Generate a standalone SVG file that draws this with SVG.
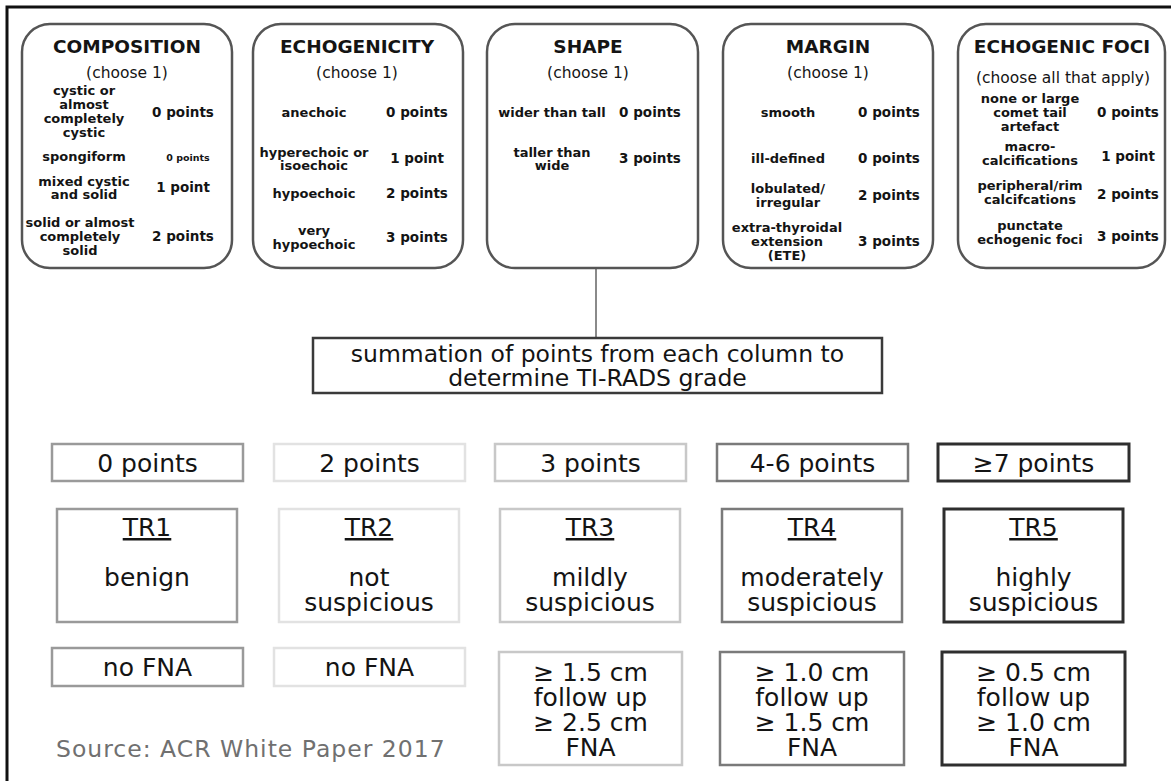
<svg xmlns="http://www.w3.org/2000/svg" width="1171" height="781" viewBox="0 0 1171 781">
<style>
text{font-family:"DejaVu Sans","Verdana",sans-serif;fill:#141414;text-anchor:middle}
.cat{fill:#fff;stroke:#555;stroke-width:2.5}
.ttl{font-size:18.5px;font-weight:bold}
.sub{font-size:15.5px}
.lb{font-size:13px;font-weight:bold}
.pt{font-size:13.5px;font-weight:bold}
.big{font-size:25px}
.sum{font-size:23.5px}
.box{fill:#fff;stroke-width:2.5}
.c1{stroke:#9a9a9a}.c2{stroke:#e2e2e2}.c3{stroke:#c8c8c8}.c4{stroke:#7a7a7a}.c5{stroke:#2e2e2e;stroke-width:3}
.u{text-decoration:underline}
</style>
<rect width="1171" height="781" fill="#fff"/>
<path d="M7,781 V7 H1171" fill="none" stroke="#111" stroke-width="3"/>
<g id="connectors">
<line x1="596" y1="268" x2="596" y2="338" stroke="#8a8a8a" stroke-width="2"/>
</g>
<g id="composition">
<rect class="cat" x="22" y="24" width="210" height="244" rx="28"/>
<text class="ttl" x="127" y="53">COMPOSITION</text>
<text class="sub" x="127" y="78">(choose 1)</text>
<text class="lb" x="84" y="95">cystic or</text>
<text class="lb" x="84" y="109">almost</text>
<text class="lb" x="84" y="123">completely</text>
<text class="lb" x="84" y="137">cystic</text>
<text class="pt" x="183" y="117">0 points</text>
<text class="lb" x="84" y="161">spongiform</text>
<text class="pt" x="188" y="160.5" style="font-size:9.5px">0 points</text>
<text class="lb" x="84" y="186">mixed cystic</text>
<text class="lb" x="84" y="199">and solid</text>
<text class="pt" x="183" y="192">1 point</text>
<text class="lb" x="80" y="227">solid or almost</text>
<text class="lb" x="80" y="241">completely</text>
<text class="lb" x="80" y="255">solid</text>
<text class="pt" x="183" y="241">2 points</text>
</g>
<g id="echogenicity">
<rect class="cat" x="253" y="24" width="210" height="244" rx="28"/>
<text class="ttl" x="357" y="53">ECHOGENICITY</text>
<text class="sub" x="357" y="78">(choose 1)</text>
<text class="lb" x="314" y="117">anechoic</text>
<text class="pt" x="417" y="117">0 points</text>
<text class="lb" x="314" y="157">hyperechoic or</text>
<text class="lb" x="314" y="170">isoechoic</text>
<text class="pt" x="417" y="163">1 point</text>
<text class="lb" x="314" y="198">hypoechoic</text>
<text class="pt" x="417" y="198">2 points</text>
<text class="lb" x="314" y="235">very</text>
<text class="lb" x="314" y="249">hypoechoic</text>
<text class="pt" x="417" y="242">3 points</text>
</g>
<g id="shape">
<rect class="cat" x="487" y="24" width="211" height="244" rx="28"/>
<text class="ttl" x="588" y="53">SHAPE</text>
<text class="sub" x="588" y="78">(choose 1)</text>
<text class="lb" x="552" y="117">wider than tall</text>
<text class="pt" x="650" y="117">0 points</text>
<text class="lb" x="552" y="157">taller than</text>
<text class="lb" x="552" y="170">wide</text>
<text class="pt" x="650" y="163">3 points</text>
</g>
<g id="margin">
<rect class="cat" x="723" y="24" width="210" height="244" rx="28"/>
<text class="ttl" x="828" y="53">MARGIN</text>
<text class="sub" x="828" y="78">(choose 1)</text>
<text class="lb" x="788" y="117">smooth</text>
<text class="pt" x="889" y="117">0 points</text>
<text class="lb" x="788" y="163">ill-defined</text>
<text class="pt" x="889" y="163">0 points</text>
<text class="lb" x="788" y="193">lobulated/</text>
<text class="lb" x="788" y="207">irregular</text>
<text class="pt" x="889" y="200">2 points</text>
<text class="lb" x="787" y="232">extra-thyroidal</text>
<text class="lb" x="787" y="246">extension</text>
<text class="lb" x="787" y="260">(ETE)</text>
<text class="pt" x="889" y="246">3 points</text>
</g>
<g id="echogenic-foci">
<rect class="cat" x="958" y="24" width="207" height="244" rx="28"/>
<text class="ttl" x="1062" y="53">ECHOGENIC FOCI</text>
<text class="sub" x="1063" y="83">(choose all that apply)</text>
<text class="lb" x="1030" y="103">none or large</text>
<text class="lb" x="1030" y="117">comet tail</text>
<text class="lb" x="1030" y="131">artefact</text>
<text class="pt" x="1128" y="117">0 points</text>
<text class="lb" x="1030" y="151">macro-</text>
<text class="lb" x="1030" y="165">calcifications</text>
<text class="pt" x="1128" y="161">1 point</text>
<text class="lb" x="1030" y="190">peripheral/rim</text>
<text class="lb" x="1030" y="204">calcifcations</text>
<text class="pt" x="1128" y="199">2 points</text>
<text class="lb" x="1030" y="230">punctate</text>
<text class="lb" x="1030" y="244">echogenic foci</text>
<text class="pt" x="1128" y="241">3 points</text>
</g>
<g id="summation">
<rect x="313" y="338" width="569" height="55" fill="#fff" stroke="#3a3a3a" stroke-width="2.5"/>
<text class="sum" x="597.5" y="362">summation of points from each column to</text>
<text class="sum" x="597.5" y="386">determine TI-RADS grade</text>
</g>
<g id="points-0">
<rect class="box c1" x="52" y="444" width="191" height="37"/>
<text class="big" x="147.5" y="472">0 points</text>
</g>
<g id="points-2">
<rect class="box c2" x="274" y="444" width="191" height="37"/>
<text class="big" x="369.5" y="472">2 points</text>
</g>
<g id="points-3">
<rect class="box c3" x="495" y="444" width="191" height="37"/>
<text class="big" x="590.5" y="472">3 points</text>
</g>
<g id="points-4-6">
<rect class="box c4" x="717" y="444" width="191" height="37"/>
<text class="big" x="812.5" y="472">4-6 points</text>
</g>
<g id="points-7">
<rect class="box c5" x="938" y="444" width="191" height="37"/>
<text class="big" x="1033.5" y="472">≥7 points</text>
</g>
<g id="tr1">
<rect class="box c1" x="57" y="509" width="180" height="113"/>
<text class="big u" x="147" y="536">TR1</text>
<text class="big" x="147" y="586">benign</text>
</g>
<g id="tr2">
<rect class="box c2" x="279" y="509" width="180" height="113"/>
<text class="big u" x="369" y="536">TR2</text>
<text class="big" x="369" y="586">not</text>
<text class="big" x="369" y="611">suspicious</text>
</g>
<g id="tr3">
<rect class="box c3" x="500" y="509" width="180" height="113"/>
<text class="big u" x="590" y="536">TR3</text>
<text class="big" x="590" y="586">mildly</text>
<text class="big" x="590" y="611">suspicious</text>
</g>
<g id="tr4">
<rect class="box c4" x="722" y="509" width="180" height="113"/>
<text class="big u" x="812" y="536">TR4</text>
<text class="big" x="812" y="586">moderately</text>
<text class="big" x="812" y="611">suspicious</text>
</g>
<g id="tr5">
<rect class="box c5" x="944" y="509" width="179" height="113"/>
<text class="big u" x="1033.5" y="536">TR5</text>
<text class="big" x="1033.5" y="586">highly</text>
<text class="big" x="1033.5" y="611">suspicious</text>
</g>
<g id="fna-1">
<rect class="box c1" x="52" y="648" width="191" height="38"/>
<text class="big" x="147.5" y="676">no FNA</text>
</g>
<g id="fna-2">
<rect class="box c2" x="274" y="648" width="191" height="38"/>
<text class="big" x="369.5" y="676">no FNA</text>
</g>
<g id="fna-3">
<rect class="box c3" x="499" y="652" width="183" height="113"/>
<text class="big" x="590.5" y="681">≥ 1.5 cm</text>
<text class="big" x="590.5" y="706">follow up</text>
<text class="big" x="590.5" y="731">≥ 2.5 cm</text>
<text class="big" x="590.5" y="756">FNA</text>
</g>
<g id="fna-4">
<rect class="box c4" x="720" y="652" width="184" height="113"/>
<text class="big" x="812" y="681">≥ 1.0 cm</text>
<text class="big" x="812" y="706">follow up</text>
<text class="big" x="812" y="731">≥ 1.5 cm</text>
<text class="big" x="812" y="756">FNA</text>
</g>
<g id="fna-5">
<rect class="box c5" x="942" y="652" width="183" height="113"/>
<text class="big" x="1033.5" y="681">≥ 0.5 cm</text>
<text class="big" x="1033.5" y="706">follow up</text>
<text class="big" x="1033.5" y="731">≥ 1.0 cm</text>
<text class="big" x="1033.5" y="756">FNA</text>
</g>
<text x="56" y="757" style="font-size:23.5px;letter-spacing:1px;fill:#707070;text-anchor:start">Source: ACR White Paper 2017</text>
</svg>
